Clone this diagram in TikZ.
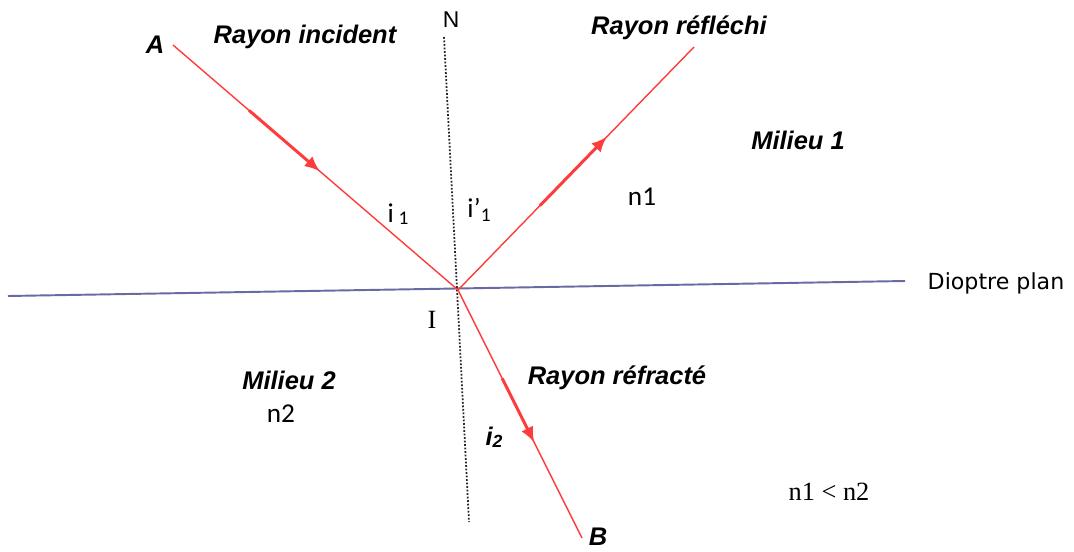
\documentclass[tikz,border=0pt]{standalone}
\usepackage{fontspec}
\setmainfont{Liberation Serif}
\newfontfamily\arialfont{Liberation Sans}
\newfontfamily\calibrifont{Carlito}
\newfontfamily\comicfont{DejaVu Sans}
\usetikzlibrary{arrows.meta,calc}
\definecolor{rayred}{RGB}{255,60,60}
\definecolor{dioptreblue}{RGB}{105,105,165}

\begin{document}
\begin{tikzpicture}[
    x=0.02cm, y=-0.02cm,
    ray/.style={rayred, line width=0.8pt},
    raydir/.style={rayred, line width=1.7pt, -{Latex[length=3.1mm, width=2.6mm]}},
    normalline/.style={densely dotted, line width=1pt, black!85},
    dioptre/.style={dioptreblue, line width=1.1pt},
    title/.style={font=\arialfont\bfseries\itshape\fontsize{14.5}{17}\selectfont},
    medium/.style={font=\calibrifont\fontsize{15.5}{18}\selectfont},
    anglelbl/.style={medium},
]
\useasboundingbox (0,0) rectangle (1074,551);
\coordinate (A) at (173,45);
\coordinate (I) at (458,290);
\coordinate (R) at (694,47);
\coordinate (B) at (582,538);
\coordinate (Ntop) at (444,37);
\coordinate (Nbot) at (469,522);
\coordinate (Dleft) at (8,296);
\coordinate (Dright) at (905,281);

\draw[dioptre] (Dleft) -- (Dright);
\draw[normalline] (Ntop) -- (Nbot);
\draw[ray] (A) -- (I) -- (R);
\draw[ray] (I) -- (B);
\draw[raydir] ($(A)!0.267!(I)$) -- ($(A)!0.516!(I)$);
\draw[raydir] ($(I)!0.347!(R)$) -- ($(I)!0.631!(R)$);
\draw[raydir] ($(I)!0.357!(B)$) -- ($(I)!0.615!(B)$);

\node[title] (lblA) at (155,45) {A};
\node[title, inner sep=1pt] (lblB) at (598,537) {B};
\node[font=\arialfont\fontsize{13}{15}\selectfont] (lblN) at (451,20) {N};
\node[font=\fontsize{15}{17}\selectfont] (lblI) at (432,320) {I};
\node[title] (incident) at (305,37) {Rayon incident};
\node[title] (reflechi) at (679,28) {Rayon réfléchi};
\node[title] (refracte) at (617,378) {Rayon réfracté};
\node[title] (milieu1) at (798,140) {Milieu 1};
\node[title] (milieu2) at (289,380) {Milieu 2};
\node[medium] (n1) at (642,197) {n1};
\node[medium] (n2) at (281,414) {n2};
\node[anglelbl] (i1) at (398,214) {i\,\raisebox{-1pt}{\fontsize{11}{12}\selectfont 1}};
\node[anglelbl] (i1p) at (479,210) {i’\raisebox{-2pt}{\fontsize{11}{12}\selectfont 1}};
\node[title] (i2) at (494,437) {i\raisebox{-1pt}{\fontsize{10}{11}\selectfont 2}};
\node[font=\comicfont\fontsize{12.6}{15}\selectfont] (dioptrelbl) at (996,283) {Dioptre plan};
\node[font=\fontsize{15}{18}\selectfont] (inegalite) at (829,492) {n1 < n2};
\end{tikzpicture}
\end{document}
